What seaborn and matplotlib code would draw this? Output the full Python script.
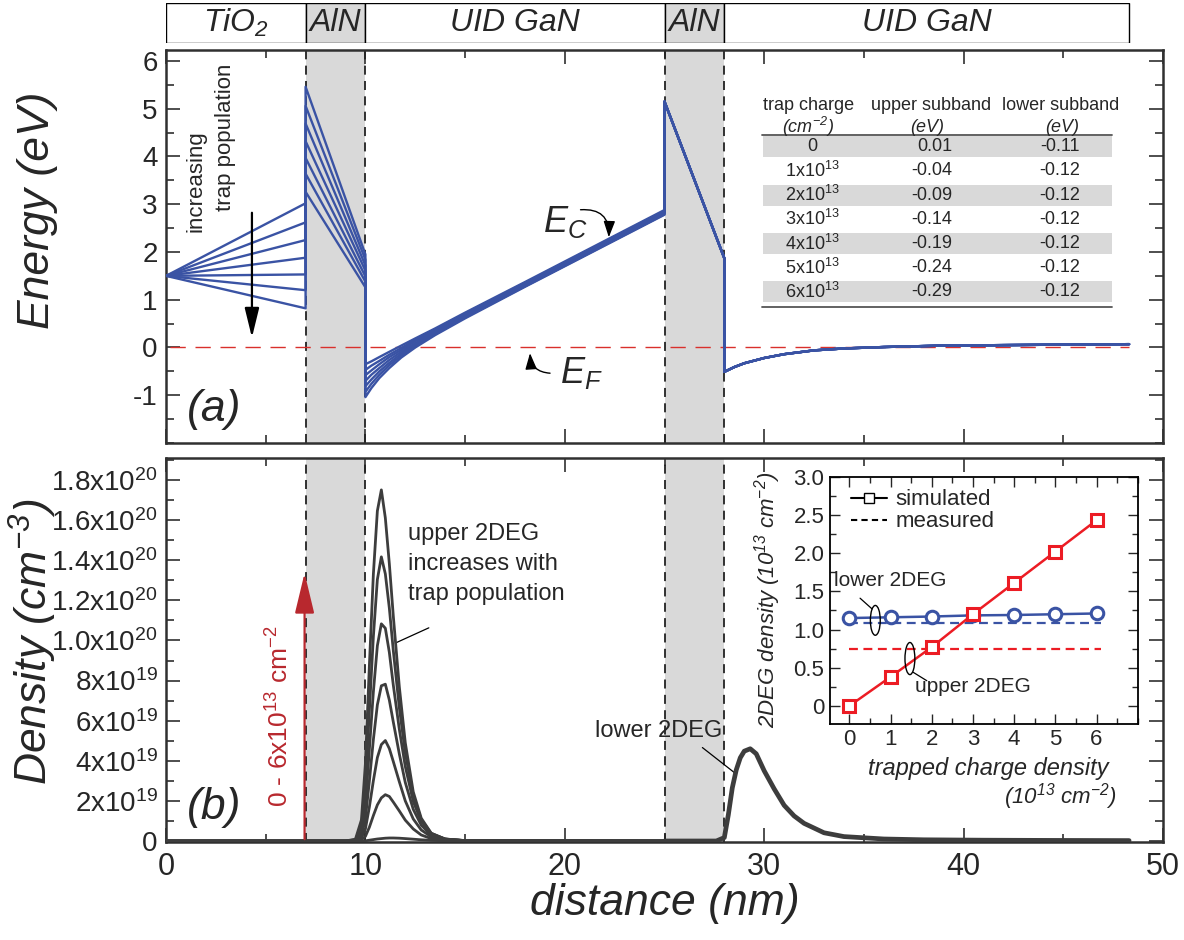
import matplotlib
matplotlib.use('Agg')
import matplotlib.pyplot as plt
import seaborn as sns
import pandas as pd
from matplotlib import font_manager as fm
from matplotlib.patches import Rectangle, Ellipse
from matplotlib.lines import Line2D
from matplotlib.ticker import MultipleLocator, FixedLocator

# ---------------- data ----------------
trap_charge = [0, 1, 2, 3, 4, 5, 6]            # 1e13 cm^-2
layer_names = ['TiO$_2$', 'AlN', 'UID GaN', 'AlN', 'UID GaN']
layer_edges = [0, 7, 10, 25, 28, 48.3]          # nm
barrier_layers = [(7, 10), (25, 28)]
interfaces = [7, 10, 25, 28]

# conduction band edge (eV) for each trap charge
tio2_E0 = 1.5
tio2_E7 = [3.02, 2.62, 2.25, 1.88, 1.53, 1.20, 0.82]
aln1_E7 = [5.46, 5.06, 4.69, 4.32, 3.97, 3.64, 3.26]
aln1_E10 = [1.95, 1.84, 1.72, 1.61, 1.49, 1.38, 1.26]
gan1_x = [10, 10.3, 10.7, 11.2, 11.8, 12.5, 13.5, 15, 18, 25]
gan1_E = [
    [-0.35, -0.29, -0.20, -0.09, 0.04, 0.19, 0.40, 0.73, 1.37, 2.88],
    [-0.47, -0.38, -0.28, -0.15, -0.01, 0.16, 0.38, 0.71, 1.35, 2.86],
    [-0.58, -0.48, -0.35, -0.20, -0.05, 0.13, 0.36, 0.69, 1.34, 2.84],
    [-0.70, -0.57, -0.43, -0.26, -0.09, 0.09, 0.33, 0.67, 1.32, 2.82],
    [-0.81, -0.67, -0.50, -0.32, -0.13, 0.06, 0.31, 0.65, 1.30, 2.81],
    [-0.93, -0.76, -0.57, -0.37, -0.17, 0.03, 0.28, 0.63, 1.28, 2.79],
    [-1.04, -0.85, -0.64, -0.43, -0.21, 0.00, 0.26, 0.61, 1.27, 2.78],
]
aln2_E25 = 5.15
aln2_E28 = 1.87
gan2_x = [28, 28.5, 29, 30, 31, 32.5, 34, 36, 39, 42, 45, 48.3]
gan2_E = [-0.51, -0.41, -0.33, -0.22, -0.14, -0.06, -0.02, 0.01, 0.04, 0.05, 0.06, 0.07]
fermi_x = [0.2, 48.3]
fermi_E = [0.0, 0.0]

# electron density (1e19 cm^-3)
up_x = [0, 9.0, 9.5, 9.8, 10.0, 10.2, 10.4, 10.6, 10.8, 11.0, 11.2, 11.4, 11.7,
        12.0, 12.4, 12.8, 13.3, 14.0, 15.0, 25.0]
up_n = [
    [0, 0, 0, 0, 0.01, 0.04, 0.07, 0.10, 0.12, 0.14, 0.15, 0.15, 0.14, 0.12, 0.09, 0.06, 0.03, 0.01, 0, 0],
    [0, 0, 0, 0.06, 0.23, 0.69, 1.27, 1.80, 2.15, 2.31, 2.22, 1.94, 1.50, 1.04, 0.60, 0.30, 0.12, 0.04, 0.01, 0],
    [0, 0, 0.01, 0.15, 0.60, 1.70, 3.01, 4.16, 4.81, 5.01, 4.61, 3.96, 2.96, 2.00, 1.10, 0.55, 0.21, 0.07, 0.02, 0],
    [0, 0, 0.02, 0.28, 1.11, 3.00, 5.06, 6.79, 7.74, 7.82, 7.03, 5.93, 4.35, 2.92, 1.58, 0.79, 0.29, 0.09, 0.02, 0],
    [0, 0, 0.03, 0.44, 1.75, 4.59, 7.44, 9.74, 10.83, 10.61, 9.41, 7.77, 5.58, 3.72, 1.97, 0.98, 0.35, 0.10, 0.02, 0],
    [0, 0, 0.06, 0.71, 2.69, 6.52, 10.20, 13.04, 14.17, 13.32, 11.62, 9.49, 6.66, 4.39, 2.27, 1.06, 0.38, 0.10, 0.01, 0],
    [0, 0, 0.09, 1.05, 3.85, 8.76, 13.31, 16.46, 17.51, 16.11, 13.83, 11.21, 7.70, 4.90, 2.45, 1.14, 0.39, 0.09, 0.02, 0],
]
lo_x = [25, 27.6, 28.0, 28.2, 28.4, 28.6, 28.8, 29.0, 29.3, 29.6, 30.0, 30.5, 31.0,
        31.5, 32.0, 33.0, 34.0, 36.0, 38.0, 41.0, 44.0, 48.3]
lo_n = [0, 0, 0.17, 1.30, 2.65, 3.55, 4.15, 4.48, 4.60, 4.35, 3.50, 2.60, 1.78,
        1.25, 0.88, 0.41, 0.22, 0.10, 0.06, 0.04, 0.03, 0.02]

# inset: 2DEG density (1e13 cm^-2) vs trapped charge
inset_x = [0, 1, 2, 3, 4, 5, 6]
upper_sim = [0.0, 0.38, 0.77, 1.20, 1.61, 2.02, 2.43]
lower_sim = [1.15, 1.16, 1.17, 1.185, 1.19, 1.20, 1.21]
meas_x = [0, 6.1]
upper_meas = [0.74, 0.74]
lower_meas = [1.08, 1.08]

# table
table_head1 = ['trap charge', 'upper subband', 'lower subband']
table_head2 = ['(cm$^{-2}$)', '(eV)', '(eV)']
table_trap = ['0', '1x10$^{13}$', '2x10$^{13}$', '3x10$^{13}$', '4x10$^{13}$', '5x10$^{13}$', '6x10$^{13}$']
table_upper = ['0.01', '-0.04', '-0.09', '-0.14', '-0.19', '-0.24', '-0.29']
table_lower = ['-0.11', '-0.12', '-0.12', '-0.12', '-0.12', '-0.12', '-0.12']

# ---------------- style ----------------
sns.set_style('ticks')
plt.rcParams['font.family'] = ['Liberation Sans', 'DejaVu Sans']
plt.rcParams['mathtext.fontset'] = 'custom'
plt.rcParams['mathtext.rm'] = 'Liberation Sans'
plt.rcParams['mathtext.it'] = 'Liberation Sans:italic'
plt.rcParams['mathtext.default'] = 'regular'

_names = {f.name for f in fm.fontManager.ttflist}
HAS_NARROW = 'Liberation Sans Narrow' in _names
NARROW = ['Liberation Sans Narrow', 'Liberation Sans'] if HAS_NARROW else ['Liberation Sans']
HEAD_FS = 27 if HAS_NARROW else 23
XTICK_FS = 26 if HAS_NARROW else 22

BLUE = '#3a53a4'
GRAY_LINE = '#3d3d3d'
SHADE = '#d9d9d9'
RED_EF = '#d9302c'
RED = '#ec1c24'
DARKRED = '#b8282e'
SPINE = '#303030'

W, H = 1184, 940
fig = plt.figure(figsize=(W / 100, H / 100), dpi=100)


def rect(l, t, r, b):
    return [l / W, 1 - b / H, (r - l) / W, (b - t) / H]


axH = fig.add_axes(rect(166, 3, 1163, 43))
axA = fig.add_axes(rect(166, 50, 1163, 443))
axB = fig.add_axes(rect(166, 458, 1163, 842))
axI = fig.add_axes(rect(830, 476.7, 1137.7, 723.5), zorder=5)
ov = fig.add_axes([0, 0, 1, 1], zorder=10)
ov.set_xlim(0, W)
ov.set_ylim(H, 0)
ov.axis('off')

# ---------------- header ----------------
axH.set_xlim(0, 50)
axH.set_ylim(0, 1)
axH.axis('off')
for k, name in enumerate(layer_names):
    a, b = layer_edges[k], layer_edges[k + 1]
    fc = SHADE if name == 'AlN' else 'white'
    axH.add_patch(Rectangle((a, 0), b - a, 1, facecolor=fc, edgecolor='black', lw=1.0))
    axH.text((a + b) / 2, 0.5, name, ha='center', va='center', fontsize=HEAD_FS,
             style='italic', family=NARROW)

# ---------------- panel (a) ----------------
rowsA = []
for i, q in enumerate(trap_charge):
    xs = [0, 7, 7, 10] + gan1_x + [25, 28] + gan2_x
    es = [tio2_E0, tio2_E7[i], aln1_E7[i], aln1_E10[i]] + gan1_E[i] + [aln2_E25, aln2_E28] + gan2_E
    for j, (x, e) in enumerate(zip(xs, es)):
        rowsA.append({'x': x, 'E': e, 'trap': q, 'order': j})
dfA = pd.DataFrame(rowsA)

for a, b in barrier_layers:
    axA.axvspan(a, b, color=SHADE, lw=0, zorder=0)
    axB.axvspan(a, b, color=SHADE, lw=0, zorder=0)
for xv in interfaces:
    axA.axvline(xv, color='#222222', lw=1.3, ls=(0, (5, 3.5)), zorder=1)
    axB.axvline(xv, color='#222222', lw=1.3, ls=(0, (5, 3.5)), zorder=1)

sns.lineplot(x=fermi_x, y=fermi_E, ax=axA, color=RED_EF, lw=1.0,
             linestyle=(0, (11, 7)), zorder=2)
sns.lineplot(data=dfA, x='x', y='E', units='trap', estimator=None, sort=False,
             color=BLUE, lw=1.7, ax=axA, legend=False, zorder=3)

axA.set_xlim(0, 50)
axA.set_ylim(-2.0, 6.23)
axA.set_xlabel('')
axA.set_ylabel('')
axA.set_yticks([-1, 0, 1, 2, 3, 4, 5, 6])
axA.set_yticklabels(['-1', '0', '1', '2', '3', '4', '5', '6'])
axA.yaxis.set_minor_locator(MultipleLocator(0.5))
axA.xaxis.set_major_locator(MultipleLocator(10))
axA.xaxis.set_minor_locator(MultipleLocator(5))
axA.tick_params(axis='both', which='both', direction='in', top=True, right=True,
                labelbottom=False, width=1.2, color=SPINE)
axA.tick_params(which='major', length=10)
axA.tick_params(which='minor', length=6)
axA.tick_params(axis='y', labelsize=20, pad=6)

# ---------------- panel (b) ----------------
rowsB = []
for i, q in enumerate(trap_charge):
    for j, (x, n) in enumerate(zip(up_x, up_n[i])):
        rowsB.append({'x': x, 'n': n, 'trap': q, 'order': j})
dfB = pd.DataFrame(rowsB)
sns.lineplot(data=dfB, x='x', y='n', units='trap', estimator=None, sort=False,
             color=GRAY_LINE, lw=2.0, ax=axB, legend=False, zorder=3)
sns.lineplot(x=lo_x, y=lo_n, ax=axB, color=GRAY_LINE, lw=3.4, zorder=3)

axB.set_xlim(0, 50)
axB.set_ylim(-0.05, 19.1)
axB.set_xlabel('')
axB.set_ylabel('')
axB.xaxis.set_minor_locator(MultipleLocator(5))
axB.yaxis.set_major_locator(FixedLocator(list(range(0, 19, 2))))
axB.yaxis.set_minor_locator(MultipleLocator(1))
axB.tick_params(axis='both', which='both', direction='in', top=True, right=True,
                width=1.2, color=SPINE)
axB.tick_params(which='major', length=10)
axB.tick_params(which='minor', length=6)
ylabs = []
for v in range(0, 19, 2):
    if v == 0:
        ylabs.append('0')
    elif v < 10:
        ylabs.append(f'{v}x10$^{{19}}$')
    else:
        ylabs.append(f'{v / 10:.1f}x10$^{{20}}$')
axB.set_yticks(list(range(0, 19, 2)))
axB.set_yticklabels(ylabs)
axB.tick_params(axis='y', labelsize=20, pad=6)
axB.set_xticks([0, 10, 20, 30, 40, 50])
axB.set_xticklabels(['0', '10', '20', '30', '40', '50'])
for lab in axB.get_xticklabels():
    lab.set_family(NARROW)
    lab.set_fontsize(XTICK_FS)
axB.tick_params(axis='x', pad=7)

for ax in (axA, axB):
    for s in ax.spines.values():
        s.set_linewidth(1.8)
        s.set_color(SPINE)

# red arrow with label
axB.annotate('', xy=(6.95, 13.5), xytext=(6.95, -0.05),
             arrowprops=dict(arrowstyle='-|>,head_length=1.25,head_width=0.3',
                             mutation_scale=20, color=DARKRED, lw=1.6), zorder=4)

# ---------------- inset ----------------
axI.set_facecolor('white')
sns.lineplot(x=meas_x, y=lower_meas, ax=axI, color=BLUE, lw=1.6, linestyle=(0, (4, 2.5)))
sns.lineplot(x=meas_x, y=upper_meas, ax=axI, color=RED, lw=1.6, linestyle=(0, (4, 2.5)))
sns.lineplot(x=inset_x, y=lower_sim, ax=axI, color=BLUE, lw=1.8, marker='o',
             markersize=9, markerfacecolor='white', markeredgecolor=BLUE, markeredgewidth=2.2)
sns.lineplot(x=inset_x, y=upper_sim, ax=axI, color=RED, lw=1.8, marker='s',
             markersize=9, markerfacecolor='white', markeredgecolor=RED, markeredgewidth=2.2)
axI.set_xlim(-0.47, 7.0)
axI.set_ylim(-0.23, 3.0)
axI.set_xlabel('')
axI.set_ylabel('')
axI.xaxis.set_minor_locator(MultipleLocator(0.5))
axI.yaxis.set_minor_locator(MultipleLocator(0.25))
axI.set_xticks([0, 1, 2, 3, 4, 5, 6])
axI.set_xticklabels(['0', '1', '2', '3', '4', '5', '6'])
axI.set_yticks([0, 0.5, 1.0, 1.5, 2.0, 2.5, 3.0])
axI.set_yticklabels(['0', '0.5', '1.0', '1.5', '2.0', '2.5', '3.0'])
axI.tick_params(axis='both', which='both', direction='in', top=True, right=True,
                labelsize=16, width=1.0, pad=4)
axI.tick_params(which='major', length=7)
axI.tick_params(which='minor', length=4)
for s in axI.spines.values():
    s.set_linewidth(1.3)
    s.set_color('black')
handles = [Line2D([], [], color='black', marker='s', markerfacecolor='white',
                  markeredgecolor='black', markersize=7, lw=1.5),
           Line2D([], [], color='black', lw=1.5, ls=(0, (3, 2)))]
axI.legend(handles, ['simulated', 'measured'], loc='upper left', frameon=False,
           fontsize=16, handlelength=1.6, handletextpad=0.4, labelspacing=0.05,
           borderaxespad=0.0, bbox_to_anchor=(0.04, 0.985))
axI.add_patch(Ellipse((0.63, 1.12), 0.24, 0.39, fill=False, edgecolor='black', lw=1.0, zorder=6))
axI.add_patch(Ellipse((1.47, 0.62), 0.24, 0.42, fill=False, edgecolor='black', lw=1.0, zorder=6))
axI.plot([0.55, 0.26], [1.27, 1.41], color='black', lw=0.9)
axI.plot([1.55, 1.88], [0.44, 0.33], color='black', lw=0.9)

# ---------------- overlay texts ----------------
ov.text(38, 210, 'Energy (eV)', rotation=90, ha='center', va='center', fontsize=32, style='italic')
ov.text(33, 642, 'Density (cm$^{-3}$)', rotation=90, ha='center', va='center', fontsize=32, style='italic')
ov.text(665, 903, 'distance (nm)', ha='center', va='center', fontsize=32, style='italic')
ov.text(214, 409, '(a)', ha='center', va='center', fontsize=32, style='italic')
ov.text(214, 808, '(b)', ha='center', va='center', fontsize=32, style='italic')

# panel (a) notes
ov.text(196, 181, 'increasing', rotation=90, ha='center', va='center', fontsize=16)
ov.text(226, 137, 'trap population', rotation=90, ha='center', va='center', fontsize=16)
axA.annotate('', xy=(4.31, 0.15), xytext=(4.31, 2.88),
             arrowprops=dict(arrowstyle='-|>,head_length=0.9,head_width=0.22',
                             mutation_scale=20, color='black', lw=1.6))
ov.text(543, 232, r'$\mathit{E}_{\mathit{C}}$', ha='left', va='baseline', fontsize=26)
ov.text(560, 383, r'$\mathit{E}_{\mathit{F}}$', ha='left', va='baseline', fontsize=26)
axA.annotate('', xy=(22.2, 2.25), xytext=(20.65, 2.88),
             arrowprops=dict(arrowstyle='-|>,head_length=0.7,head_width=0.25',
                             mutation_scale=14, color='black', lw=1.0,
                             connectionstyle='arc3,rad=-0.6'))
axA.annotate('', xy=(18.25, -0.06), xytext=(19.4, -0.54),
             arrowprops=dict(arrowstyle='-|>,head_length=0.7,head_width=0.25',
                             mutation_scale=14, color='black', lw=1.0,
                             connectionstyle='arc3,rad=-0.5'))

# table
for k in (0, 2, 4, 6):
    cy = 146.7 + 24.2 * k
    ov.add_patch(Rectangle((763, cy - 10.5), 1112 - 763, 21, facecolor=SHADE, edgecolor='none'))
ov.plot([762, 1112], [134.5, 134.5], color='#555555', lw=1.3)
ov.plot([762, 1112], [306.7, 306.7], color='#555555', lw=1.3)
for cx, t in zip([809, 931, 1061], table_head1):
    ov.text(cx, 106, t, ha='center', va='center', fontsize=13)
for cx, t in zip([808, 927, 1062], table_head2):
    ov.text(cx, 127, t, ha='center', va='center', fontsize=13, style='italic')
for k in range(7):
    cy = 146.7 + 24.2 * k
    ov.text(812, cy, table_trap[k], ha='center', va='center', fontsize=13)
    ov.text(952, cy, table_upper[k], ha='right', va='center', fontsize=13)
    ov.text(1080, cy, table_lower[k], ha='right', va='center', fontsize=13)

# panel (b) notes
ov.text(280, 716, '0 - 6x10$^{13}$ cm$^{-2}$', rotation=90, ha='center', va='center',
        fontsize=19, color=DARKRED)
ov.text(408, 564, 'upper 2DEG\nincreases with\ntrap population', ha='left', va='center',
        fontsize=17, linespacing=1.45)
axB.plot([13.18, 11.5], [10.63, 9.87], color='black', lw=0.9)
ov.text(722, 731, 'lower 2DEG', ha='right', va='center', fontsize=17)
axB.plot([26.9, 28.57], [4.66, 3.36], color='black', lw=0.9)

# inset labels
ov.text(946, 580, 'lower 2DEG', ha='right', va='center', fontsize=15, zorder=12)
ov.text(915, 686, 'upper 2DEG', ha='left', va='center', fontsize=15, zorder=12)
ov.text(988, 769, 'trapped charge density', ha='center', va='center', fontsize=17, style='italic')
ov.text(1117, 797, '(10$^{13}$ cm$^{-2}$)', ha='right', va='center', fontsize=16, style='italic')
ov.text(768, 600, '2DEG density (10$^{13}$ cm$^{-2}$)', rotation=90, ha='center', va='center',
        fontsize=16, style='italic')

fig.savefig('out.png', dpi=100)
